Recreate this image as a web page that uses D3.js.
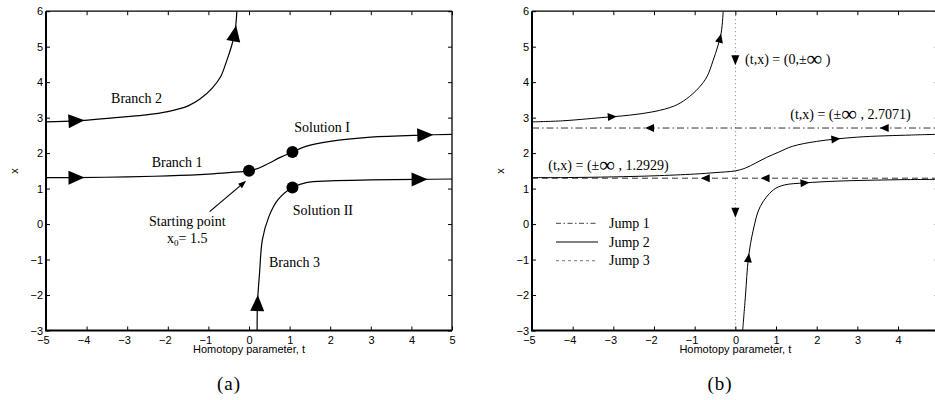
<!DOCTYPE html>
<html>
<head>
<meta charset="utf-8">
<script src="https://cdn.jsdelivr.net/npm/d3@7"></script>
<style>
  body { margin: 0; background: #fff; }
  svg { display: block; }
</style>
</head>
<body>
<svg id="fig" width="935" height="400"></svg>
<script>
// ---- data -------------------------------------------------------------
const tTicks = [-5, -4, -3, -2, -1, 0, 1, 2, 3, 4, 5];
const xTicks = [-3, -2, -1, 0, 1, 2, 3, 4, 5, 6];

// solution branches (t, x)
const branch1 = [[-5, 1.31], [-4.25, 1.31], [-3, 1.33], [-2, 1.36], [-1, 1.41], [-0.5, 1.45],
                 [0, 1.5], [0.25, 1.58], [0.5, 1.72], [0.77, 1.88], [1.07, 2.03], [1.4, 2.19],
                 [2, 2.33], [3, 2.45], [4.33, 2.51], [5, 2.53]];
const branch2 = [[-5, 2.88], [-4.25, 2.91], [-3.3, 3.0], [-2.6, 3.07], [-2.0, 3.17], [-1.5, 3.33],
                 [-1.2, 3.53], [-0.9, 3.84], [-0.7, 4.15], [-0.55, 4.6], [-0.43, 5.02],
                 [-0.35, 5.38], [-0.31, 5.8], [-0.3, 6.0]];
const branch3a = [[0.2, -3], [0.21, -2.2], [0.26, -1.38], [0.33, -0.44], [0.49, 0.21],
                  [0.71, 0.68], [1.07, 1.03], [1.41, 1.17], [2, 1.22], [3, 1.245],
                  [4.2, 1.26], [5, 1.27]];
const branch3b = [[0.18, -3], [0.25, -2.0], [0.32, -0.97], [0.44, -0.17], [0.61, 0.49],
                  [0.93, 0.96], [1.2, 1.1], [1.71, 1.16], [2.5, 1.21], [4, 1.25], [5, 1.26]];

// starting point and the two solutions reached
const startPoint = [0, 1.5];
const solutions = [[1.07, 2.03], [1.07, 1.03]];

// jump asymptotes
const jump1X = 2.7071;
const jump3X = 1.2929;
const jumpT = 0;

// direction arrows along each branch, panel (a) and (b)
const arrowsA = [["b2", -4.25, 2.91], ["b2", -0.35, 5.38], ["b1", -4.25, 1.31],
                 ["b1", 4.34, 2.51], ["b3", 0.2, -2.22], ["b3", 4.2, 1.26]];
const arrowsB = [["b2", -3.02, 3.0], ["b2", -0.38, 5.24], ["b1", 2.47, 2.385],
                 ["b3", 0.31, -0.95], ["b3", 1.71, 1.15]];
const jump1Arrows = [-2.11, 3.66];
const jump3Arrows = [-0.74, 0.73];
const verticalArrows = [4.62, 0.32];

const legendLabels = ["Jump 1", "Jump 2", "Jump 3"];

// ---- drawing ----------------------------------------------------------
const svg = d3.select("#fig");
const FIG_W = 935;
const Y_RANGE = [330.5, 11.2];
const fmt = d => d < 0 ? "\u2212" + (-d) : String(d);
const SERIF = "'Liberation Serif', 'Times New Roman', serif";
const SANS = "'Liberation Sans', Arial, sans-serif";

function makePanel(id, x0, x1) {
  const x = d3.scaleLinear().domain([-5, 5]).range([x0, x1]);
  const y = d3.scaleLinear().domain([-3, 6]).range(Y_RANGE);
  const g = svg.append("g").attr("id", id);
  svg.append("clipPath").attr("id", id + "-clip").append("rect")
    .attr("x", x0).attr("y", Y_RANGE[1])
    .attr("width", x1 - x0).attr("height", Y_RANGE[0] - Y_RANGE[1]);
  const plot = g.append("g").attr("clip-path", `url(#${id}-clip)`);
  const over = g.append("g");

  const styleAxis = sel => {
    sel.select(".domain").remove();
    sel.selectAll("line").attr("stroke", "#000").attr("stroke-width", 1);
    sel.selectAll("text").attr("font-family", SANS).attr("font-size", 11).attr("fill", "#000");
  };
  // bottom (labels that would fall past the figure edge are left blank)
  g.append("g").attr("transform", `translate(0,${Y_RANGE[0]})`)
    .call(d3.axisBottom(x).tickValues(tTicks).tickSizeInner(-4).tickSizeOuter(0)
      .tickPadding(6).tickFormat(d => x(d) > FIG_W - 6 ? "" : fmt(d)))
    .call(styleAxis)
    .call(s => s.selectAll("text").attr("text-anchor", "end").attr("x", 3.2));
  // top
  g.append("g").attr("transform", `translate(0,${Y_RANGE[1]})`)
    .call(d3.axisTop(x).tickValues(tTicks).tickSizeInner(-4).tickSizeOuter(0).tickFormat(""))
    .call(styleAxis);
  // left
  g.append("g").attr("transform", `translate(${x0},0)`)
    .call(d3.axisLeft(y).tickValues(xTicks).tickSizeInner(-4).tickSizeOuter(0)
      .tickPadding(3).tickFormat(fmt))
    .call(styleAxis);
  // right
  g.append("g").attr("transform", `translate(${x1},0)`)
    .call(d3.axisRight(y).tickValues(xTicks).tickSizeInner(-4).tickSizeOuter(0).tickFormat(""))
    .call(styleAxis);

  // frame
  const fr = g.append("g").attr("stroke", "#000").attr("fill", "none");
  fr.append("line").attr("x1", x0).attr("x2", x1).attr("y1", Y_RANGE[1]).attr("y2", Y_RANGE[1]).attr("stroke-width", 1.3);
  fr.append("line").attr("x1", x1).attr("x2", x1).attr("y1", Y_RANGE[1]).attr("y2", Y_RANGE[0]).attr("stroke-width", 1.3);
  fr.append("line").attr("x1", x0 - 1).attr("x2", x1).attr("y1", Y_RANGE[0]).attr("y2", Y_RANGE[0]).attr("stroke-width", 2);
  fr.append("line").attr("x1", x0).attr("x2", x0).attr("y1", Y_RANGE[1]).attr("y2", Y_RANGE[0]).attr("stroke-width", 2);

  // axis titles
  g.append("text").attr("x", (x0 + x1) / 2).attr("y", 352.5)
    .attr("text-anchor", "middle").attr("font-family", SANS).attr("font-size", 11)
    .text("Homotopy parameter, t");
  g.append("text").attr("transform", `translate(${x0 - 31},171) rotate(-90)`)
    .attr("text-anchor", "middle").attr("dominant-baseline", "middle")
    .attr("font-family", SANS).attr("font-size", 11).text("x");

  return { x, y, g, plot, over };
}

function triangle(g, cx, cy, ang, L, W) {
  const ux = Math.cos(ang), uy = Math.sin(ang), nx = -uy, ny = ux;
  const pts = [
    [cx + ux * L / 2, cy + uy * L / 2],
    [cx - ux * L / 2 + nx * W / 2, cy - uy * L / 2 + ny * W / 2],
    [cx - ux * L / 2 - nx * W / 2, cy - uy * L / 2 - ny * W / 2]
  ];
  g.append("path").attr("d", "M" + pts.map(p => p.join(",")).join("L") + "Z").attr("fill", "#000");
}

function arrowOnPath(g, node, px, py, L, W) {
  const len = node.getTotalLength();
  let best = 0, bd = Infinity;
  for (let s = 0; s <= len; s += 0.5) {
    const p = node.getPointAtLength(s);
    const d = (p.x - px) ** 2 + (p.y - py) ** 2;
    if (d < bd) { bd = d; best = s; }
  }
  const a = node.getPointAtLength(Math.max(0, best - 3));
  const b = node.getPointAtLength(Math.min(len, best + 3));
  const c = node.getPointAtLength(best);
  triangle(g, c.x, c.y, Math.atan2(b.y - a.y, b.x - a.x), L, W);
}

function drawBranches(P, branches, width) {
  const line = d3.line().x(d => P.x(d[0])).y(d => P.y(d[1])).curve(d3.curveCatmullRom.alpha(0.5));
  const nodes = {};
  for (const [key, data] of Object.entries(branches)) {
    nodes[key] = P.plot.append("path").datum(data).attr("d", line)
      .attr("fill", "none").attr("stroke", "#000").attr("stroke-width", width).node();
  }
  return nodes;
}

// ---------------- panel (a) ----------------
const A = makePanel("panelA", 46, 452);
const nodesA = drawBranches(A, { b1: branch1, b2: branch2, b3: branch3a }, 1.2);
arrowsA.forEach(([k, t, v]) => arrowOnPath(A.plot, nodesA[k], A.x(t), A.y(v), 16, 14));

[startPoint, ...solutions].forEach(p => {
  A.plot.append("circle").attr("cx", A.x(p[0])).attr("cy", A.y(p[1])).attr("r", 6).attr("fill", "#000");
});

// pointer to the starting point
{
  const sx = A.x(-0.97), sy = A.y(0.35), ex = A.x(-0.07), ey = A.y(1.22);
  const ang = Math.atan2(ey - sy, ex - sx);
  A.over.append("line").attr("x1", sx).attr("y1", sy)
    .attr("x2", ex - Math.cos(ang) * 6).attr("y2", ey - Math.sin(ang) * 6)
    .attr("stroke", "#000").attr("stroke-width", 1.2);
  triangle(A.over, ex - Math.cos(ang) * 4, ey - Math.sin(ang) * 4, ang, 8, 6);
}

const labelsA = [
  ["Branch 2", -2.77, 3.41],
  ["Branch 1", -1.77, 1.62],
  ["Solution I", 1.80, 2.59],
  ["Solution II", 1.82, 0.26],
  ["Branch 3", 1.12, -1.21],
  ["Starting point", -1.52, -0.05]
];
labelsA.forEach(([s, t, v]) => {
  A.over.append("text").attr("x", A.x(t)).attr("y", A.y(v)).attr("text-anchor", "middle")
    .attr("font-family", SERIF).attr("font-size", 14).text(s);
});
{
  const tx = A.over.append("text").attr("x", A.x(-1.52)).attr("y", A.y(-0.52))
    .attr("text-anchor", "middle").attr("font-family", SERIF).attr("font-size", 14);
  tx.append("tspan").text("x");
  tx.append("tspan").attr("font-size", 9).attr("dy", 3.5).text("0");
  tx.append("tspan").attr("dy", -3.5).text("= 1.5");
}

// ---------------- panel (b) ----------------
const B = makePanel("panelB", 532, 938.7);

// jump lines
B.plot.append("line").attr("x1", B.x(jumpT)).attr("x2", B.x(jumpT))
  .attr("y1", B.y(6)).attr("y2", B.y(-3))
  .attr("stroke", "#777").attr("stroke-width", 1).attr("stroke-dasharray", "1,3");
B.plot.append("line").attr("x1", B.x(-5)).attr("x2", B.x(5))
  .attr("y1", B.y(jump1X)).attr("y2", B.y(jump1X))
  .attr("stroke", "#333").attr("stroke-width", 1).attr("stroke-dasharray", "7,3,1.5,3");
B.plot.append("line").attr("x1", B.x(-5)).attr("x2", B.x(5))
  .attr("y1", B.y(jump3X)).attr("y2", B.y(jump3X))
  .attr("stroke", "#333").attr("stroke-width", 1).attr("stroke-dasharray", "6,4");

const nodesB = drawBranches(B, { b1: branch1, b2: branch2, b3: branch3b }, 1);
arrowsB.forEach(([k, t, v]) => arrowOnPath(B.plot, nodesB[k], B.x(t), B.y(v), 9, 8));
jump1Arrows.forEach(t => triangle(B.plot, B.x(t), B.y(jump1X), Math.PI, 9, 8));
jump3Arrows.forEach(t => triangle(B.plot, B.x(t), B.y(jump3X), Math.PI, 9, 8));
verticalArrows.forEach(v => triangle(B.plot, B.x(jumpT), B.y(v), Math.PI / 2, 10, 8));

// asymptote labels
function infLabel(g, px, py, before, after) {
  const tx = g.append("text").attr("x", px).attr("y", py)
    .attr("font-family", SERIF).attr("font-size", 14);
  tx.append("tspan").text(before);
  tx.append("tspan").attr("font-size", 22).attr("dy", 2).text("\u221E");
  tx.append("tspan").attr("dy", -2).text(after);
}
infLabel(B.over, B.x(0.24), B.y(4.5), "(t,x) = (0,\u00B1", " )");
infLabel(B.over, B.x(1.35), B.y(2.96), "(t,x) = (\u00B1", " , " + jump1X + ")");
infLabel(B.over, B.x(-4.6), B.y(1.52), "(t,x) = (\u00B1", " , " + jump3X + ")");

// legend
const legendStyles = [
  { dash: "5,2.5,1.5,2.5", color: "#444" },
  { dash: null, color: "#000" },
  { dash: "3,3", color: "#777" }
];
legendLabels.forEach((s, i) => {
  const yy = 223.3 + i * 18.7;
  const ln = B.over.append("line").attr("x1", 556).attr("x2", 598).attr("y1", yy).attr("y2", yy)
    .attr("stroke", legendStyles[i].color).attr("stroke-width", 1);
  if (legendStyles[i].dash) ln.attr("stroke-dasharray", legendStyles[i].dash);
  B.over.append("text").attr("x", 609).attr("y", yy + 4.5)
    .attr("font-family", SERIF).attr("font-size", 14).text(s);
});

// panel captions
svg.append("text").attr("x", 229).attr("y", 390).attr("text-anchor", "middle")
  .attr("font-family", SERIF).attr("font-size", 19).attr("letter-spacing", 1).text("(a)");
svg.append("text").attr("x", 720).attr("y", 390).attr("text-anchor", "middle")
  .attr("font-family", SERIF).attr("font-size", 19).attr("letter-spacing", 1).text("(b)");
</script>
</body>
</html>
